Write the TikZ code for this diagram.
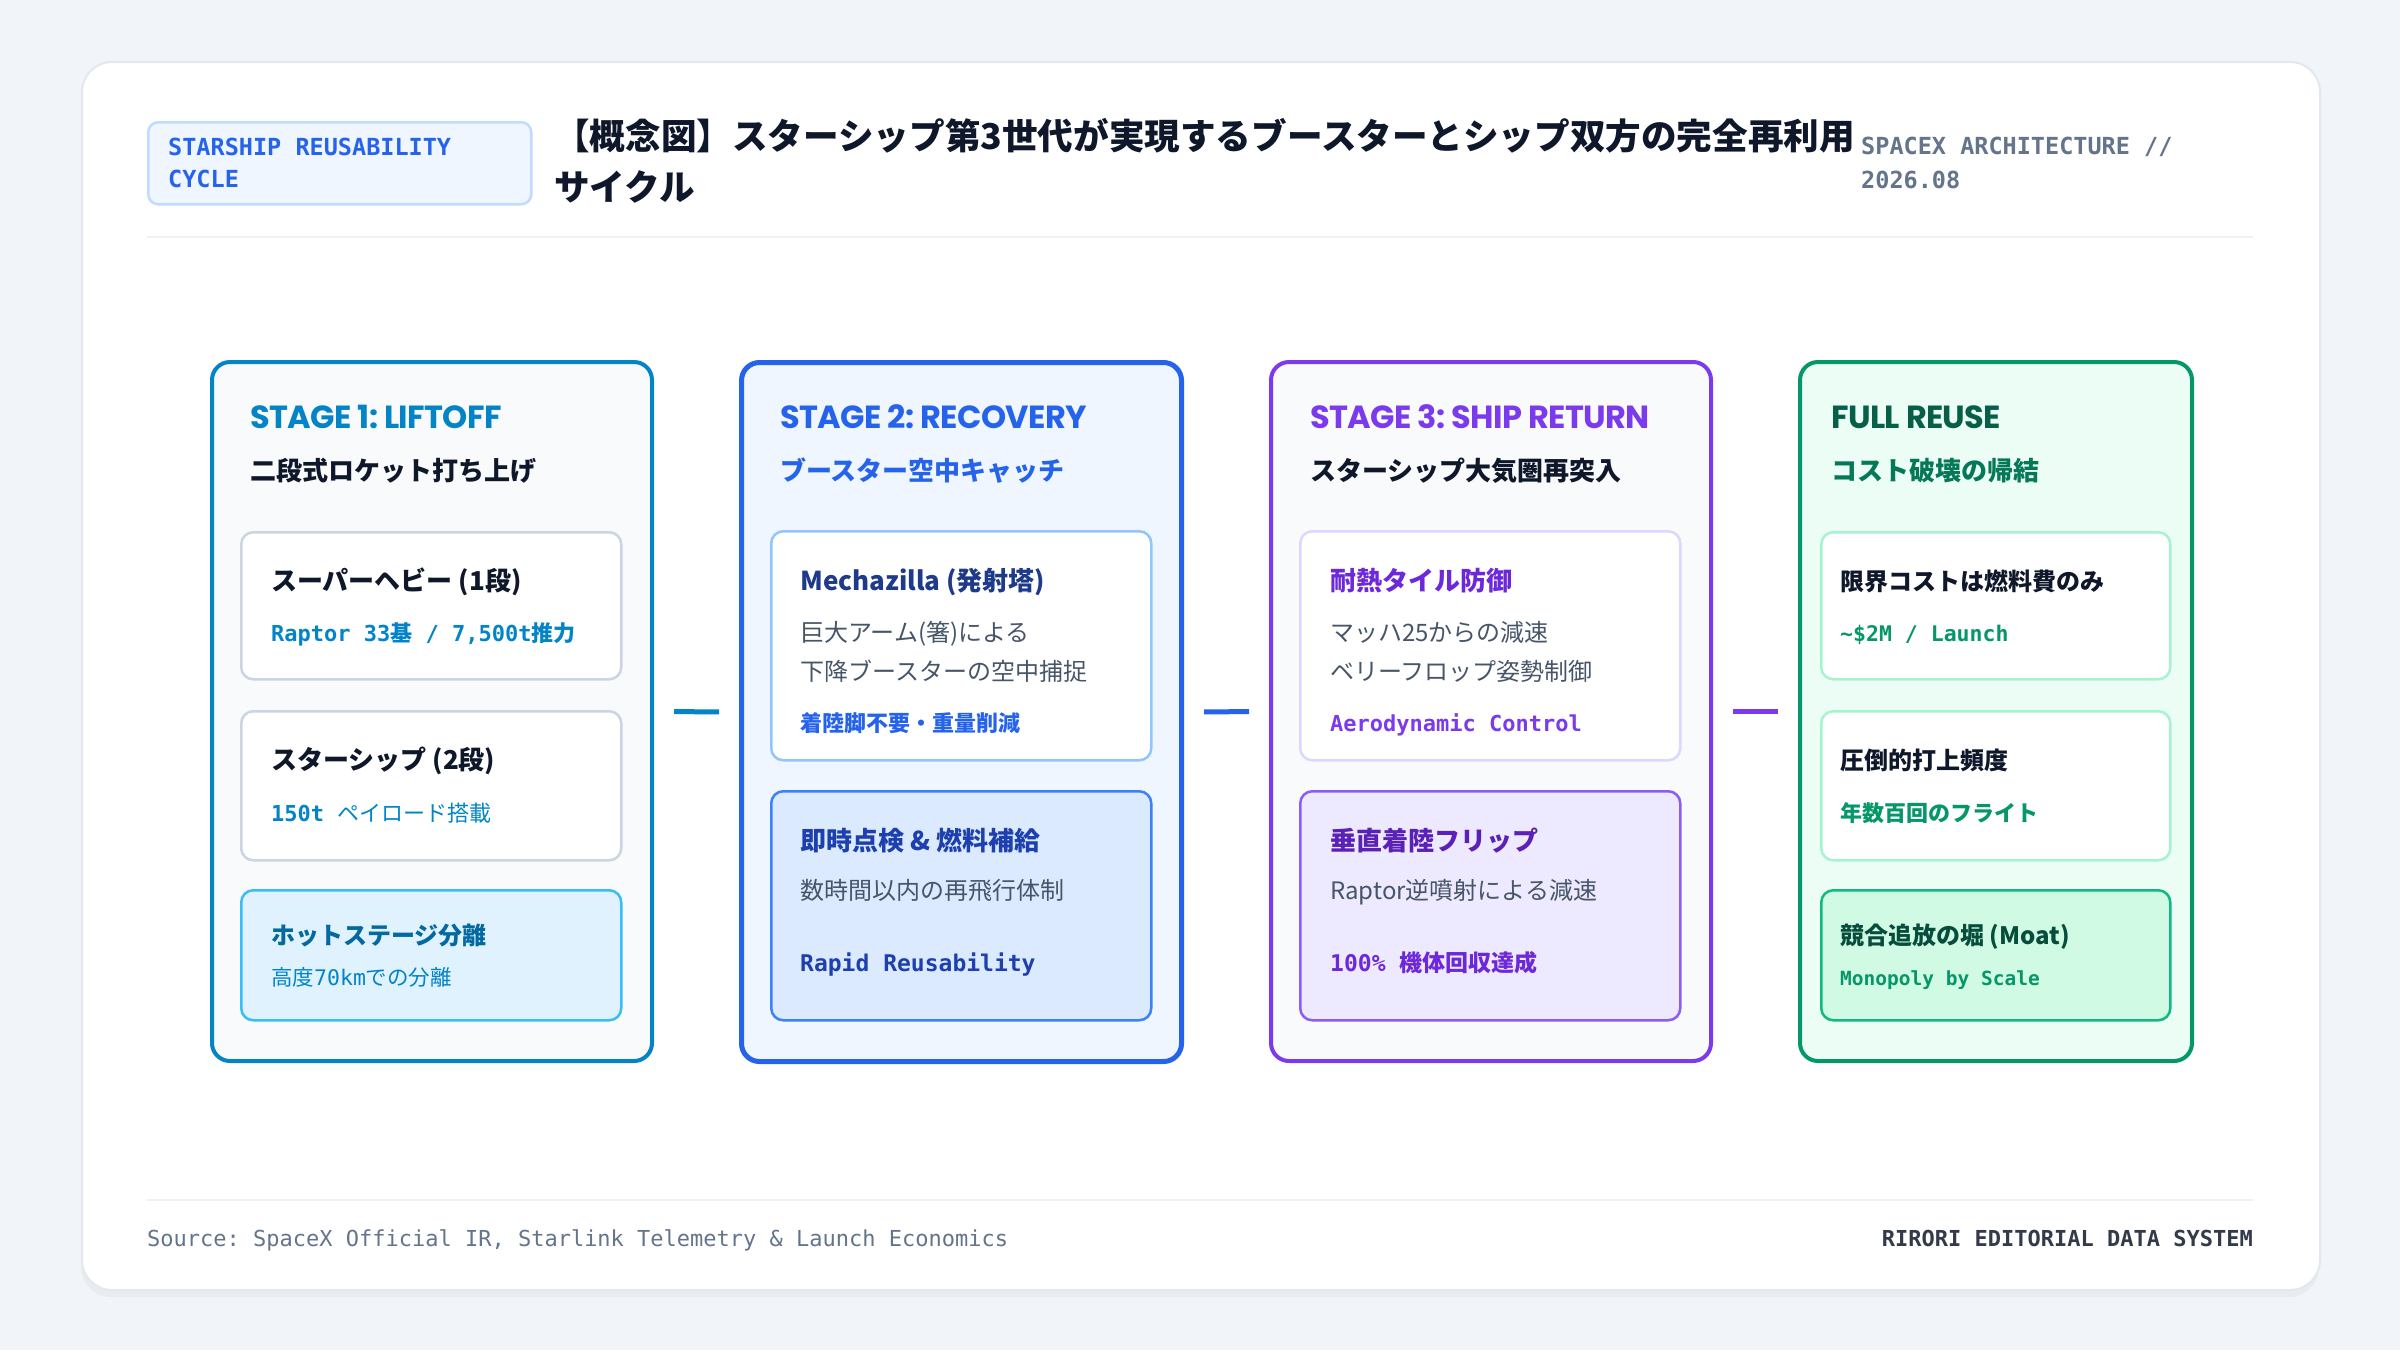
\documentclass[tikz,border=0pt]{standalone}
\usepackage{fontspec}
\setmainfont{Noto Sans CJK JP}
\newfontfamily\codefont{DejaVu Sans Mono}
\newfontfamily\stagefont{Poppins}[LetterSpace=-2]
\usetikzlibrary{positioning}

\definecolor{pagebg}{HTML}{F1F5F9}
\definecolor{cardline}{HTML}{E2E8F0}
\definecolor{rule}{HTML}{EEF2F6}
\definecolor{ink}{HTML}{0F172A}
\definecolor{slate}{HTML}{64748B}
\definecolor{bodygray}{HTML}{475569}
\definecolor{panelbg}{HTML}{F8FAFC}
\definecolor{tagbg}{HTML}{EFF6FF}
\definecolor{tagline}{HTML}{BFDBFE}
\definecolor{skyc}{HTML}{0284C7}
\definecolor{skyfill}{HTML}{E0F2FE}
\definecolor{skyline}{HTML}{38BDF8}
\definecolor{skydark}{HTML}{0369A1}
\definecolor{greyline}{HTML}{CBD5E1}
\definecolor{bluec}{HTML}{2563EB}
\definecolor{bluebg}{HTML}{EFF6FF}
\definecolor{bluefill}{HTML}{DBEAFE}
\definecolor{blueline}{HTML}{93C5FD}
\definecolor{bluemid}{HTML}{3B82F6}
\definecolor{bluedark}{HTML}{1E40AF}
\definecolor{bluenavy}{HTML}{1E3A8A}
\definecolor{violetc}{HTML}{7C3AED}
\definecolor{violetfill}{HTML}{EDE9FE}
\definecolor{violetline}{HTML}{DDD6FE}
\definecolor{violetmid}{HTML}{8B5CF6}
\definecolor{violettext}{HTML}{6D28D9}
\definecolor{violetdark}{HTML}{5B21B6}
\definecolor{greenc}{HTML}{059669}
\definecolor{greenbg}{HTML}{ECFDF5}
\definecolor{greenfill}{HTML}{D1FAE5}
\definecolor{greenline}{HTML}{A7F3D0}
\definecolor{greenmid}{HTML}{10B981}
\definecolor{greentext}{HTML}{047857}
\definecolor{greendark}{HTML}{065F46}
\definecolor{greendeep}{HTML}{064E3B}

\newcommand\sz[1]{\fontsize{#1}{#1}\selectfont}
\newcommand\cd[1]{{\codefont\bfseries #1}}
\frenchspacing

\begin{document}
\begin{tikzpicture}[x=1pt,y=-1pt,
    panel/.style={draw, rounded corners=18pt, line width=4pt, anchor=north west, inner sep=0pt, minimum width=440pt, minimum height=699pt},
    box/.style={draw, rounded corners=12pt, line width=2.5pt, anchor=north west, inner sep=0pt, minimum width=380pt},
    lbl/.style={anchor=mid west, inner sep=0pt, yshift=-8pt},
    stage/.style={lbl, font=\stagefont\bfseries\sz{32}},
    sub/.style={lbl, font=\bfseries\sz{26}},
    head/.style={lbl, font=\bfseries\sz{26}},
    line/.style={lbl, font=\sz{24}, text=bodygray},
  ]
    \useasboundingbox[fill=pagebg] (0,0) rectangle (2400,1350);
    \fill[black, opacity=0.035, rounded corners=30pt] (81,69) rectangle (2319,1297);
    \node[draw=cardline, line width=2pt, fill=white, rounded corners=30pt, anchor=north west, inner sep=0pt,
          minimum width=2238pt, minimum height=1228pt] (card) at (81,61) {};

    \node[draw=tagline, fill=tagbg, line width=2.5pt, rounded corners=10pt, anchor=north west, inner sep=0pt,
          minimum width=383pt, minimum height=82pt] (tag) at (147,121) {};
    \node[lbl, text=bluec, font=\codefont\bfseries\sz{23.5}] (tag1) at (168,145) {STARSHIP REUSABILITY};
    \node[lbl, text=bluec, font=\codefont\bfseries\sz{23.5}] (tag2) at (168,177) {CYCLE};
    \node[lbl, text=ink, font=\bfseries\sz{35.6}] (title1) at (554,139) {【概念図】スターシップ第3世代が実現するブースターとシップ双方の完全再利用};
    \node[lbl, text=ink, font=\bfseries\sz{35.6}] (title2) at (554,190) {サイクル};
    \node[lbl, text=slate, font=\codefont\bfseries\sz{23.5}] (arch1) at (1861,144) {SPACEX ARCHITECTURE //};
    \node[lbl, text=slate, font=\codefont\bfseries\sz{23.5}] (arch2) at (1861,178) {2026.08};
    \coordinate (hl) at (147,237);
    \coordinate (hr) at (2253,237);
    \draw[rule, line width=2pt] (hl) -- (hr);

    \node[panel, draw=skyc, fill=panelbg] (c1) at (210,360) {};
    \node[panel, draw=bluec, fill=bluebg, line width=5pt] (c2) at (739,360) {};
    \node[panel, draw=violetc, fill=panelbg] (c3) at (1269,360) {};
    \node[panel, draw=greenc, fill=greenbg, minimum width=392pt] (c4) at (1798,360) {};
    \foreach \a/\b/\c in {c1/c2/skyc, c2/c3/bluec, c3/c4/violetc}
        \draw[\c, line width=5pt, shorten <=20pt, shorten >=20pt] (\a.east) -- (\b.west);

    \node[stage, text=skyc] (t1) at (250,418) {STAGE 1: LIFTOFF};
    \node[sub, text=ink] (u1) at (250,470) {二段式ロケット打ち上げ};
    \node[box, draw=greyline, fill=white, minimum height=147pt] (b11) at (240,531) {};
    \node[head, text=ink] at (271,580) {スーパーヘビー (1段)};
    \node[lbl, text=skyc, font=\sz{22}] at (271,631) {\cd{Raptor 33}\textbf{基}\cd{ / 7,500t}\textbf{推力}};
    \node[box, draw=greyline, fill=white, minimum height=149pt] (b12) at (240,710) {};
    \node[head, text=ink] at (271,759) {スターシップ (2段)};
    \node[lbl, text=skyc, font=\sz{22}] at (271,811) {\cd{150t }ペイロード搭載};
    \node[box, draw=skyline, fill=skyfill, minimum height=130pt] (b13) at (240,889) {};
    \node[head, text=skydark, font=\bfseries\sz{24}] at (271,934) {ホットステージ分離};
    \node[lbl, text=skyc, font=\sz{21.5}] at (271,975) {高度{\codefont 70km}での分離};

    \node[stage, text=bluec] (t2) at (780,418) {STAGE 2: RECOVERY};
    \node[sub, text=bluec] (u2) at (780,470) {ブースター空中キャッチ};
    \node[box, draw=blueline, fill=white, minimum height=229pt] (b21) at (770,530) {};
    \node[head, text=bluenavy] at (800,580) {Mechazilla (発射塔)};
    \node[line] at (800,631) {巨大アーム(箸)による};
    \node[line] at (800,670) {下降ブースターの空中捕捉};
    \node[lbl, text=bluec, font=\bfseries\sz{22}] at (800,721) {着陸脚不要・重量削減};
    \node[box, draw=bluemid, fill=bluefill, minimum height=229pt] (b22) at (770,790) {};
    \node[head, text=bluedark] at (800,840) {即時点検 \& 燃料補給};
    \node[line] at (800,889) {数時間以内の再飛行体制};
    \node[lbl, text=bluedark, font=\codefont\bfseries\sz{23}] at (800,961) {Rapid Reusability};

    \node[stage, text=violetc] (t3) at (1310,418) {STAGE 3: SHIP RETURN};
    \node[sub, text=ink] (u3) at (1310,470) {スターシップ大気圏再突入};
    \node[box, draw=violetline, fill=white, minimum height=229pt] (b31) at (1299,530) {};
    \node[head, text=violettext] at (1330,580) {耐熱タイル防御};
    \node[line] at (1330,631) {マッハ25からの減速};
    \node[line] at (1330,670) {ベリーフロップ姿勢制御};
    \node[lbl, text=violetc, font=\codefont\bfseries\sz{22}] at (1330,721) {Aerodynamic Control};
    \node[box, draw=violetmid, fill=violetfill, minimum height=229pt] (b32) at (1299,790) {};
    \node[head, text=violetdark] at (1330,840) {垂直着陸フリップ};
    \node[line] at (1330,889) {Raptor逆噴射による減速};
    \node[lbl, text=violettext, font=\bfseries\sz{23}] at (1330,961) {\cd{100\% }機体回収達成};

    \node[stage, text=greendark] (t4) at (1831,418) {FULL REUSE};
    \node[sub, text=greentext] (u4) at (1831,470) {コスト破壊の帰結};
    \node[box, draw=greenline, fill=white, minimum width=349pt, minimum height=147pt] (b41) at (1820,531) {};
    \node[head, text=ink, font=\bfseries\sz{24}] at (1840,580) {限界コストは燃料費のみ};
    \node[lbl, text=greenc, font=\codefont\bfseries\sz{21.5}] at (1840,631) {\textasciitilde\$2M / Launch};
    \node[box, draw=greenline, fill=white, minimum width=349pt, minimum height=149pt] (b42) at (1820,710) {};
    \node[head, text=ink, font=\bfseries\sz{24}] at (1840,759) {圧倒的打上頻度};
    \node[lbl, text=greenc, font=\bfseries\sz{22}] at (1840,811) {年数百回のフライト};
    \node[box, draw=greenmid, fill=greenfill, minimum width=349pt, minimum height=130pt] (b43) at (1820,889) {};
    \node[head, text=greendeep, font=\bfseries\sz{24}] at (1840,934) {競合追放の堀 (Moat)};
    \node[lbl, text=greenc, font=\codefont\bfseries\sz{19.5}] at (1840,975) {Monopoly by Scale};

    \coordinate (fl) at (147,1200);
    \coordinate (fr) at (2253,1200);
    \draw[rule, line width=2pt] (fl) -- (fr);
    \node[lbl, text=slate, font=\codefont\sz{22}] (src) at (147,1236) {Source: SpaceX Official IR, Starlink Telemetry \& Launch Economics};
    \node[anchor=mid east, inner sep=0pt, yshift=-8pt, text=ink!85, font=\codefont\bfseries\sz{22}] (sys) at (2253,1236) {RIRORI EDITORIAL DATA SYSTEM};
\end{tikzpicture}
\end{document}
